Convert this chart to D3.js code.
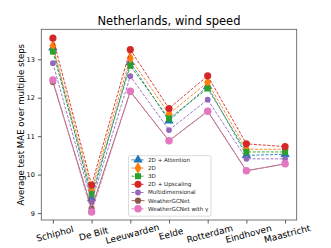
<!DOCTYPE html>
<html><head><meta charset="utf-8">
<script src="https://cdn.jsdelivr.net/npm/d3@7"></script>
<style>body{margin:0;background:#fff}svg{display:block}text{font-family:"DejaVu Sans",sans-serif}</style>
</head><body><svg id="c" width="331" height="248"></svg>
<script>
const stations = ["Schiphol","De Bilt","Leeuwarden","Eelde","Rotterdam","Eindhoven","Maastricht"];
const seriesNames = ["2D + Attention","2D","3D","2D + Upscaling","Multidimensional","WeatherGCNet","WeatherGCNet with γ"];
const attention = [13.30, 9.38, 12.92, 11.40, 12.30, 10.50, 10.53];
const twoD      = [13.35, 9.60, 13.03, 11.58, 12.40, 10.66, 10.66];
const threeD    = [13.20, 9.49, 12.83, 11.46, 12.24, 10.59, 10.59];
const upscaling = [13.55, 9.73, 13.25, 11.72, 12.57, 10.80, 10.73];
const multidim  = [12.90, 9.29, 12.56, 11.16, 11.95, 10.41, 10.41];
const gcnet     = [12.41, 9.12, 12.16, 10.88, 11.65, 10.10, 10.28];
const gcnetG    = [12.46, 9.03, 12.17, 10.88, 11.65, 10.10, 10.28];
const yTicks = [9, 10, 11, 12, 13];

const colors = ["#1f77b4","#ff7f0e","#2ca02c","#d62728","#9467bd","#8c564b","#e377c2"];
const shapes = [d3.symbolTriangle, d3.symbolDiamond, d3.symbolSquare, d3.symbolCircle, d3.symbolCircle, d3.symbolCircle, d3.symbolCircle];
const sizes = [38, 42, 36, 40, 26, 30, 44];
const dashes = ["3,1.5","3,1.5","3,1.5","3,1.5","3,1.5",null,"3,1.5"];
const allVals = [attention, twoD, threeD, upscaling, multidim, gcnet, gcnetG];

const svg = d3.select("#c");
const L = 41.3, R = 296.7, T = 29.3, B = 220;
const x = d3.scaleLinear().domain([-0.3, 6.3]).range([L, R]);
const y = d3.scaleLinear().domain([8.82, 13.78]).range([B, T]);

// axes
const gx = svg.append("g").attr("transform", `translate(0,${B})`)
  .call(d3.axisBottom(x).tickValues(d3.range(stations.length)).tickFormat(i => stations[i]).tickSize(3.5).tickPadding(3));
gx.selectAll("text").attr("font-size", 9).attr("fill", "#000")
  .attr("text-anchor", "middle")
  .attr("transform", "translate(0,8) rotate(-15)").attr("dy", "0.3em");
const gy = svg.append("g").attr("transform", `translate(${L},0)`)
  .call(d3.axisLeft(y).tickValues(yTicks).tickFormat(d3.format("d")).tickSize(3.5).tickPadding(3));
gy.selectAll("text").attr("font-size", 6.5).attr("fill", "#000");
[gx, gy].forEach(g => { g.select(".domain").remove(); g.selectAll("line").attr("stroke", "#333").attr("stroke-width", 0.8); });

// frame
svg.append("rect").attr("x", L).attr("y", T).attr("width", R - L).attr("height", B - T)
  .attr("fill", "none").attr("stroke", "#555").attr("stroke-width", 0.8);

// series
const line = d3.line().x((d, i) => x(i)).y(d => y(d));
allVals.forEach((vals, s) => {
  svg.append("path").datum(vals).attr("d", line).attr("fill", "none")
    .attr("stroke", colors[s]).attr("stroke-width", 0.9)
    .attr("stroke-dasharray", dashes[s]);
  svg.append("g").selectAll("path").data(vals).join("path")
    .attr("transform", (d, i) => `translate(${x(i)},${y(d)})`)
    .attr("d", d3.symbol(shapes[s], sizes[s]))
    .attr("fill", colors[s]);
});

// title & y label
svg.append("text").attr("x", 169).attr("y", 25).attr("text-anchor", "middle")
  .attr("font-size", 11.5).attr("fill", "#000").text("Netherlands, wind speed");
svg.append("text").attr("transform", `translate(24,${(T + B) / 2}) rotate(-90)`)
  .attr("text-anchor", "middle").attr("font-size", 8.6).attr("fill", "#000")
  .text("Average test MAE over multiple steps");

// legend
const lg = svg.append("g").attr("transform", "translate(128.5,155.7)");
lg.append("rect").attr("width", 82.5).attr("height", 60.5).attr("rx", 1.5)
  .attr("fill", "#fff").attr("fill-opacity", 0.85).attr("stroke", "#ccc").attr("stroke-width", 0.7);
seriesNames.forEach((n, s) => {
  const yy = 4.2 + s * 8.15;
  lg.append("line").attr("x1", 3).attr("x2", 16).attr("y1", yy).attr("y2", yy)
    .attr("stroke", colors[s]).attr("stroke-width", 0.9).attr("stroke-dasharray", dashes[s]);
  lg.append("path").attr("transform", `translate(9.5,${yy})`)
    .attr("d", d3.symbol(shapes[s], sizes[s])).attr("fill", colors[s]);
  lg.append("text").attr("x", 19.5).attr("y", yy).attr("dy", "0.35em")
    .attr("font-size", 5.6).attr("fill", "#222").text(n);
});
</script></body></html>
